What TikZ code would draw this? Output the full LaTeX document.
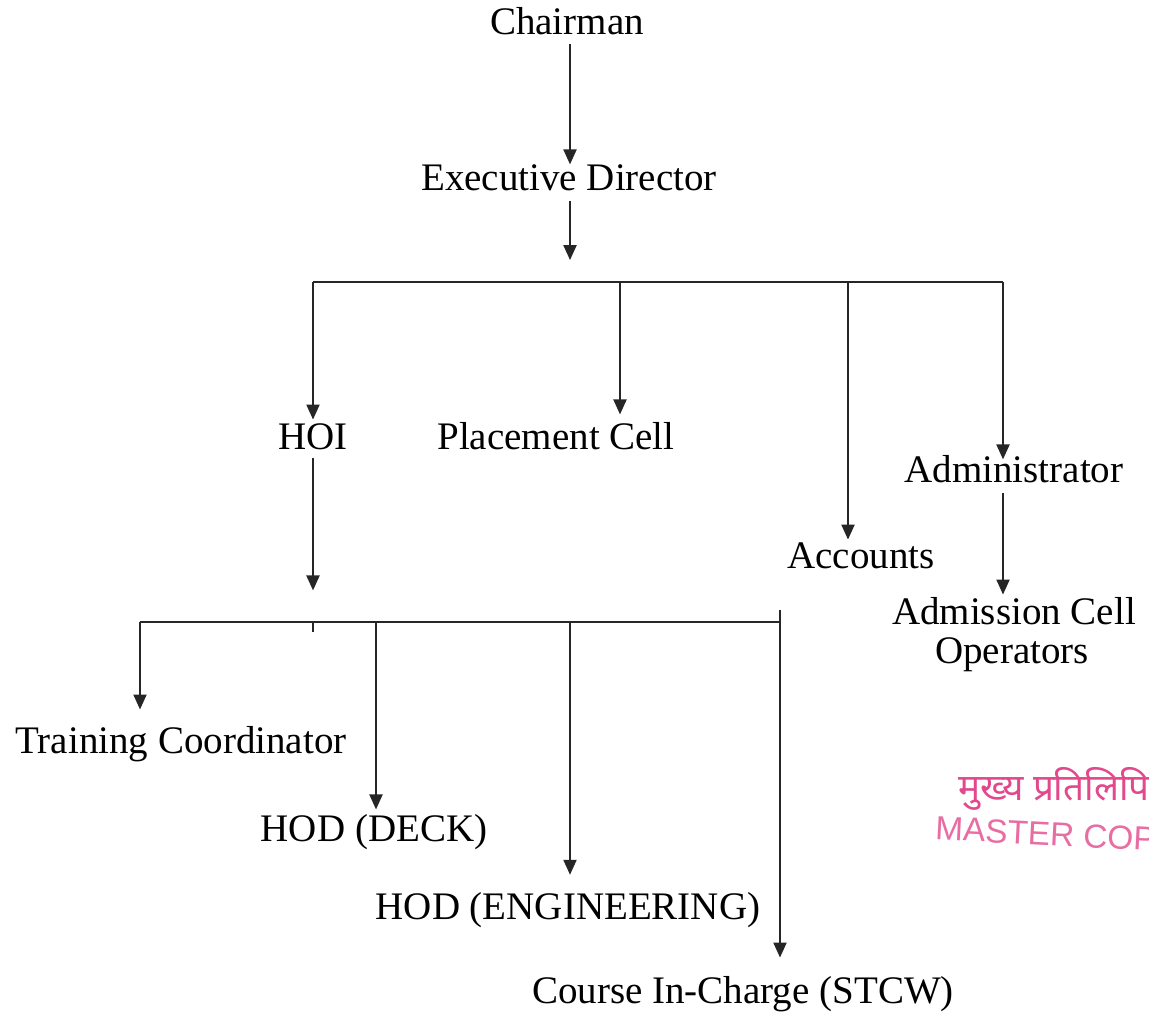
\documentclass[tikz,border=0pt]{standalone}
\usepackage{fontspec}
\setmainfont{Liberation Serif}
\newfontfamily\devfont[Script=Devanagari]{Noto Sans}
\newfontfamily\stampfont{Liberation Sans}
\usetikzlibrary{arrows.meta}
\definecolor{stampred}{RGB}{226,72,140}

\begin{document}
\begin{tikzpicture}[x=0.02cm,y=-0.02cm]
  \tikzstyle{lbl}=[inner sep=0pt, anchor=base, text height=0.7em, text depth=0.2em, font=\fontsize{22.2}{27}\selectfont]
  \tikzstyle{link}=[line width=0.85pt, black!85]
  \tikzstyle{directed}=[link, -{Triangle[length=8.5pt,width=7.5pt]}]
  \useasboundingbox (0,0) rectangle (1149,1014);

  \node[lbl] (chair) at (567,34) {Chairman};
  \node[lbl] (exec) at (569,190) {Executive Director};
  \node[lbl] (hoi) at (313,449) {HOI};
  \node[lbl] (place) at (556,449) {Placement Cell};
  \node[lbl] (acct) at (861,568) {Accounts};
  \node[lbl] (admin) at (1014,482) {Administrator};
  \node[lbl] (adcell) at (1014,624) {Admission Cell};
  \node[lbl] (oper) at (1012,663) {Operators};
  \node[lbl] (train) at (181,753) {Training Coordinator};
  \node[lbl] (deck) at (374,841) {HOD (DECK)};
  \node[lbl] (engg) at (568,919) {HOD (ENGINEERING)};
  \node[lbl] (course) at (743,1003) {Course In-Charge (STCW)};

  % upper bus
  \coordinate (top) at (570,282);
  \coordinate (busL) at (313,282);
  \coordinate (busR) at (1003,282);
  \coordinate (pc) at (620,282);
  \coordinate (ac) at (848,282);
  % lower bus
  \coordinate (hj) at (313,622);
  \coordinate (lowL) at (140,622);
  \coordinate (lowR) at (780,622);
  \coordinate (dk) at (376,622);
  \coordinate (en) at (570,622);
  \coordinate (cs) at (780,610);

  \draw[directed, shorten <=3.4pt, shorten >=7.4pt] (chair.south -| top) -- (top |- exec.north);
  \draw[directed, shorten <=4pt, shorten >=12.5pt] (exec.south -| top) -- (top);
  \draw[link] (busL) -- (busR);
  \foreach \c/\n/\s in {busL/hoi/9.6pt, pc/place/12.5pt, ac/acct/9pt, busR/admin/5.7pt} {
    \draw[directed, shorten >=\s] (\c) -- (\c |- \n.north);
  }
  \draw[directed, shorten <=4pt, shorten >=9.6pt] (busR |- admin.south) -- (busR |- adcell.north);

  \draw[directed, shorten <=2.8pt, shorten >=18pt] (hoi.south) -- (hj);
  \draw[link] (lowL) -- (lowR);
  \draw[link] (hj) -- ++(0,10);
  \foreach \c/\n/\s in {lowL/train/17.6pt, dk/deck/10.8pt, en/engg/18pt, cs/course/18.7pt} {
    \draw[directed, shorten >=\s] (\c) -- (\c |- \n.north);
  }

  % stamp
  \node[anchor=west, inner sep=0pt, text=stampred, font=\devfont\bfseries\fontsize{21}{24}\selectfont] (stampa) at (958,789) {मुख्य प्रतिलिपि};
  \node[anchor=west, inner sep=0pt, text=stampred!80, rotate=-3, font=\stampfont\fontsize{19}{22}\selectfont] (stampb) at (935,828) {MASTER COPY};
\end{tikzpicture}
\end{document}
